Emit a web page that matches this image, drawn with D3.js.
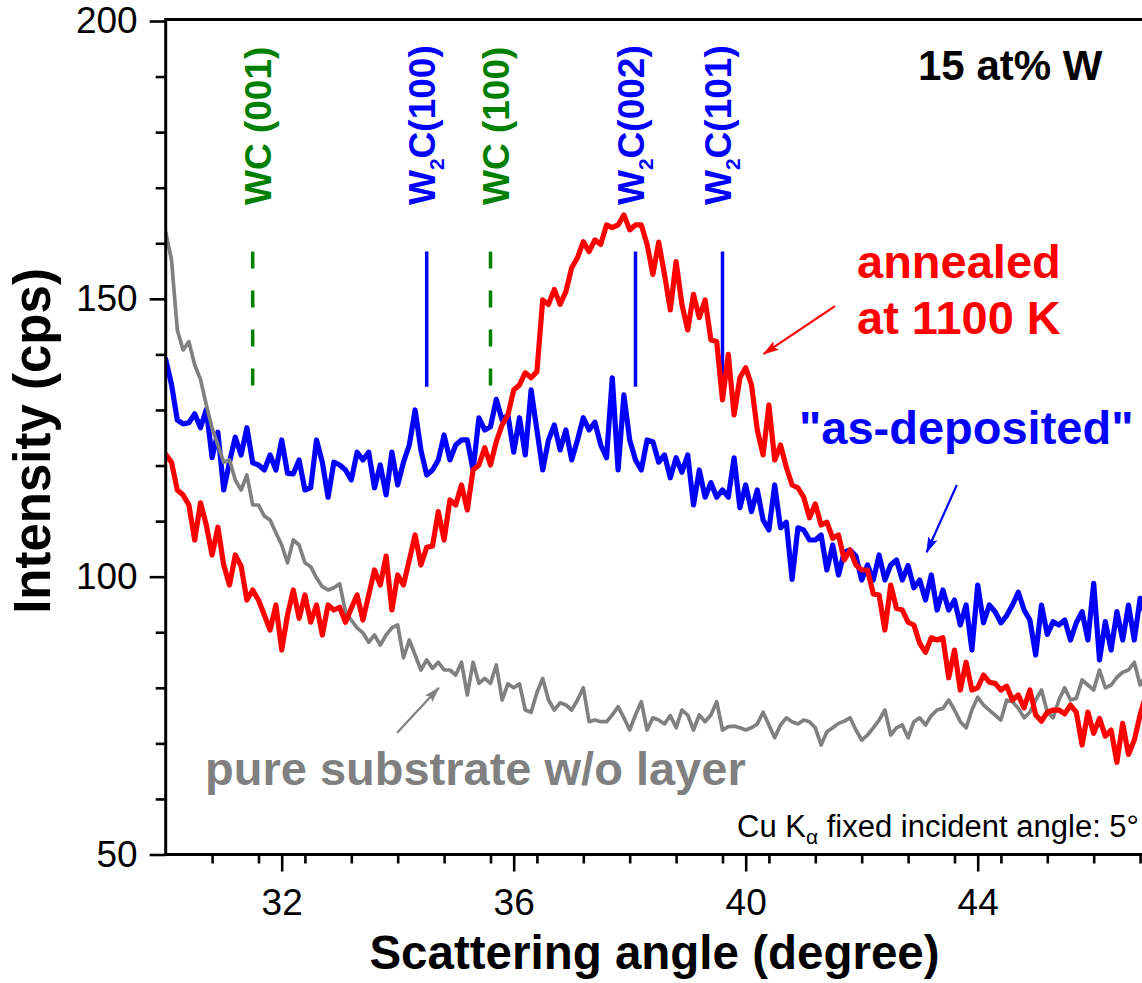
<!DOCTYPE html>
<html>
<head>
<meta charset="utf-8">
<script src="https://cdn.jsdelivr.net/npm/d3@7"></script>
<style>
  html, body { margin: 0; padding: 0; background: #fff; }
  svg { display: block; font-family: "Liberation Sans", Arial, Helvetica, sans-serif; }
</style>
</head>
<body>
<svg id="chart" width="1142" height="983"></svg>
<script>
// XRD scans, 15 at% W films: intensity (cps) sampled every 0.1 degree from 30.0 to 47.0
const angleStart = 30.0;
const angleStep = 0.1;

// pure substrate without layer
const substrate = [
  162, 157, 144.4, 140.8, 142.3, 138.1, 135.5, 130.9, 126.8, 123.7,
  120.6, 121.0, 117.4, 115.6, 118.3, 112.9, 112.9, 110.9, 110.2, 107.9,
  105.7, 102.5, 106.6, 105.7, 102.5, 101.8, 99.8, 98.2, 97.6, 98.0,
  98.7, 93.7, 92.2, 90.8, 89.9, 88.2, 89.5, 87.7, 89.5, 90.8,
  91.3, 85.4, 88.6, 85.9, 83.2, 85.0, 83.5, 84.6, 83.2, 83.2,
  82.3, 84.6, 78.7, 84.6, 80.8, 81.7, 80.8, 84.1, 77.8, 80.7,
  80.0, 80.7, 76.0, 75.6, 79.1, 81.7, 77.8, 76.0, 77.3, 76.9,
  76.0, 77.8, 80.0, 73.9, 74.2, 73.9, 73.9, 75.1, 76.6, 74.6,
  72.4, 75.1, 77.5, 72.4, 74.6, 74.2, 73.5, 75.0, 72.8, 76.0,
  75.1, 72.4, 75.1, 73.9, 75.1, 77.5, 72.4, 73.0, 73.1, 72.8,
  72.4, 72.8, 73.5, 75.6, 73.3, 71.0, 73.3, 74.6, 73.9, 73.5,
  74.2, 73.9, 72.8, 69.7, 72.1, 72.8, 73.6, 74.0, 74.6, 72.4,
  70.6, 71.5, 72.8, 74.2, 76.0, 71.5, 72.8, 73.3, 71.0, 73.9,
  74.6, 73.3, 75.0, 76.0, 76.3, 77.8, 76.0, 73.9, 72.8, 76.0,
  78.3, 76.9, 76.0, 75.1, 74.2, 77.8, 77.5, 76.3, 74.6, 75.6,
  77.8, 79.6, 75.6, 74.6, 77.8, 80.0, 77.8, 78.1, 81.4, 80.5,
  79.6, 83.2, 80.0, 80.5, 81.9, 82.8, 83.2, 84.6, 80.5, 82.3,
  83.2
];

// "as-deposited" film
const asDeposited = [
  139.1, 134.6, 128.2, 127.5, 127.7, 129.3, 126.8, 130.1, 121.4, 126.0,
  115.6, 120.6, 125.1, 121.9, 126.8, 120.5, 120.1, 119.2, 121.9, 119.2,
  124.6, 118.6, 118.5, 121.0, 115.6, 116.0, 124.6, 120.6, 114.3, 120.6,
  120.1, 119.2, 117.4, 122.4, 121.0, 122.4, 116.0, 120.1, 114.7, 122.4,
  116.5, 120.6, 123.7, 130.0, 122.8, 118.3, 119.2, 121.0, 125.5, 121.0,
  123.7, 124.6, 124.6, 119.2, 128.6, 126.4, 127.0, 131.9, 128.2, 129.1,
  122.4, 128.6, 121.9, 133.6, 126.4, 119.2, 124.6, 127.3, 122.8, 126.4,
  121.0, 124.6, 128.6, 126.4, 127.8, 123.7, 121.4, 135.8, 119.2, 132.7,
  124.6, 121.0, 119.2, 124.6, 124.3, 120.6, 121.9, 117.8, 121.4, 118.8,
  121.9, 112.9, 119.2, 114.3, 116.9, 114.3, 115.6, 114.3, 121.4, 112.4,
  116.5, 111.7, 115.6, 110.2, 108.4, 116.5, 108.8, 109.8, 99.5, 108.8,
  108.4, 106.6, 106.6, 107.5, 101.2, 105.7, 100.3, 104.4, 104.8, 103.7,
  99.4, 102.1, 99.4, 103.9, 99.4, 102.1, 103.0, 99.4, 102.0, 98.0,
  99.4, 95.8, 100.3, 94.0, 97.6, 94.0, 95.8, 91.3, 94.9, 86.8,
  98.5, 91.7, 94.9, 93.7, 91.7, 93.0, 94.9, 97.2, 94.0, 92.2,
  85.9, 94.9, 89.6, 91.9, 91.3, 92.2, 88.6, 91.7, 93.7, 88.6,
  98.8, 85.0, 91.9, 86.8, 93.7, 88.6, 94.9, 88.6, 96.1, 93.0,
  94.9
];

// annealed at 1100 K
const annealed = [
  122.0, 120.6, 115.6, 114.7, 112.9, 106.6, 113.3, 109.3, 103.9, 108.9,
  102.1, 98.5, 103.9, 101.9, 95.8, 97.6, 95.8, 93.1, 90.4, 94.9,
  86.8, 93.1, 97.6, 92.5, 96.7, 91.8, 94.9, 89.5, 94.9, 94.0,
  94.5, 91.8, 94.3, 96.7, 92.2, 96.7, 101.2, 98.5, 103.7, 94.0,
  100.3, 98.5, 103.0, 107.5, 102.1, 105.3, 105.5, 111.7, 106.6, 113.8,
  112.9, 116.5, 112.0, 119.2, 120.1, 123.2, 120.1, 124.3, 127.3, 129.1,
  133.6, 134.5, 136.7, 135.8, 136.9, 149.8, 149.0, 151.7, 149.0, 151.3,
  155.6, 157.4, 160.3, 158.5, 160.6, 159.8, 163.3, 162.8, 163.3, 165.1,
  162.4, 163.3, 163.3, 159.8, 154.4, 160.2, 154.4, 148.0, 156.7, 149.0,
  144.4, 150.8, 146.6, 149.8, 142.6, 142.3, 131.8, 140.0, 129.1, 135.8,
  137.6, 134.5, 126.4, 121.9, 130.9, 121.0, 123.7, 119.7, 116.5, 116.0,
  114.3, 110.6, 113.1, 109.3, 109.8, 106.9, 107.5, 103.0, 104.8, 102.1,
  101.2, 101.2, 96.9, 96.7, 90.4, 98.5, 94.3, 94.0, 91.8, 91.3,
  88.0, 86.4, 89.0, 88.6, 89.0, 81.8, 86.8, 79.6, 84.6, 79.6,
  80.0, 82.3, 81.0, 80.8, 79.6, 80.3, 77.8, 78.7, 76.4, 79.6,
  75.1, 74.0, 75.6, 76.0, 76.0, 75.3, 76.9, 75.6, 69.7, 75.6,
  71.8, 74.5, 71.3, 72.4, 66.6, 73.6, 68.0, 70.6, 75.1, 78.7,
  79.6
];

// reference reflections
const peakLabels = ["WC (001)", "W_2C(100)", "WC (100)", "W_2C(002)", "W_2C(101)"];
const peakPhases = ["WC", "W2C", "WC", "W2C", "W2C"];
const peakAngles = [31.5, 34.5, 35.6, 38.1, 39.6];
const peakMarkerRange = [134.2, 158.5];

// axes
const xDomain = [30, 47];
const yDomain = [50, 200];
const xMajorTicks = [32, 36, 40, 44];
const yMajorTicks = [50, 100, 150, 200];
const xTitle = "Scattering angle (degree)";
const yTitle = "Intensity (cps)";

const RED = "#ff0000", BLUE = "#0000ff", GREY = "#808080", GREEN = "#008000";

const svg = d3.select("#chart");
const x = d3.scaleLinear().domain(xDomain).range([165.7, 1151.7]);
const y = d3.scaleLinear().domain(yDomain).range([854.5, 21]);

const angles = substrate.map((_, i) => +(angleStart + i * angleStep).toFixed(2));
const toPoints = arr => arr.map((v, i) => [angles[i], v]);

// clip to plot area
svg.append("defs").append("clipPath").attr("id", "plotClip")
  .append("rect")
  .attr("x", x(xDomain[0])).attr("y", y(yDomain[1]) - 2)
  .attr("width", x(xDomain[1]) - x(xDomain[0]))
  .attr("height", y(yDomain[0]) - y(yDomain[1]) + 2);

// arrow heads
const defs = svg.select("defs");
[["arrRed", RED], ["arrBlue", BLUE], ["arrGrey", GREY]].forEach(([id, c]) => {
  defs.append("marker").attr("id", id)
    .attr("viewBox", "0 0 16 10").attr("refX", 15).attr("refY", 5)
    .attr("markerUnits", "userSpaceOnUse")
    .attr("markerWidth", 16).attr("markerHeight", 10)
    .attr("orient", "auto")
    .append("path").attr("d", "M0,0 L16,5 L0,10 L3,5 Z").attr("fill", c);
});

// reference reflection markers and labels
const peaks = svg.append("g");
peakAngles.forEach((a, i) => {
  const isWC = peakPhases[i] === "WC";
  const col = isWC ? GREEN : BLUE;
  peaks.append("line")
    .attr("x1", x(a)).attr("x2", x(a))
    .attr("y1", y(peakMarkerRange[1])).attr("y2", y(peakMarkerRange[0]))
    .attr("stroke", col).attr("stroke-width", 3.5)
    .attr("stroke-dasharray", isWC ? "17,22" : null);
  const off = isWC ? 18 : 8;
  const t = peaks.append("text")
    .attr("transform", `translate(${x(a) + off},205) rotate(-90)`)
    .attr("fill", col).attr("font-weight", "bold").attr("font-size", 37);
  const parts = peakLabels[i].split("_");
  if (parts.length === 1) {
    t.text(parts[0]);
  } else {
    t.append("tspan").text(parts[0]);
    t.append("tspan").attr("font-size", 21).attr("dy", 9).text(parts[1].charAt(0));
    t.append("tspan").attr("dy", -9).text(parts[1].slice(1));
  }
});

// data curves
const line = d3.line().x(d => x(d[0])).y(d => y(d[1]));
const curves = svg.append("g").attr("clip-path", "url(#plotClip)");
[[asDeposited, BLUE, 5.2], [substrate, GREY, 3.7], [annealed, RED, 5.2]].forEach(([arr, c, w]) => {
  curves.append("path").datum(toPoints(arr))
    .attr("d", line).attr("fill", "none")
    .attr("stroke", c).attr("stroke-width", w)
    .attr("stroke-linejoin", "round").attr("stroke-linecap", "round");
});

// frame
svg.append("rect")
  .attr("x", x(xDomain[0])).attr("y", y(yDomain[1]) - 1.5)
  .attr("width", x(xDomain[1]) - x(xDomain[0]))
  .attr("height", y(yDomain[0]) - y(yDomain[1]) + 1.5)
  .attr("fill", "none").attr("stroke", "#000").attr("stroke-width", 3);

// x axis
const xMinor = d3.range(0, 22).map(k => +(30 + 0.8 * k).toFixed(1))
  .filter(v => v > 30 && v <= 47 && !xMajorTicks.includes(v));
const gx = svg.append("g").attr("transform", `translate(0,${y(yDomain[0])})`);
gx.append("g").call(d3.axisBottom(x).tickValues(xMinor).tickSize(9).tickFormat(""));
gx.append("g").call(d3.axisBottom(x).tickValues(xMajorTicks).tickSize(17).tickPadding(17).tickFormat(d3.format("d")));
gx.selectAll(".domain").remove();
gx.selectAll(".tick line").attr("stroke", "#000").attr("stroke-width", 2.6);
gx.selectAll(".tick text").attr("font-size", 37).attr("fill", "#000")
  .attr("font-family", "'Liberation Sans', Arial, sans-serif");

// y axis
const yMinor = d3.range(60, 200, 10).filter(v => !yMajorTicks.includes(v));
const gy = svg.append("g").attr("transform", `translate(${x(xDomain[0])},0)`);
gy.append("g").call(d3.axisLeft(y).tickValues(yMinor).tickSize(10).tickFormat(""));
gy.append("g").call(d3.axisLeft(y).tickValues(yMajorTicks).tickSize(16).tickPadding(12).tickFormat(d3.format("d")));
gy.selectAll(".domain").remove();
gy.selectAll(".tick line").attr("stroke", "#000").attr("stroke-width", 2.6);
gy.selectAll(".tick text").attr("font-size", 37).attr("fill", "#000")
  .attr("font-family", "'Liberation Sans', Arial, sans-serif");

// axis titles
svg.append("text").attr("x", 654.5).attr("y", 969)
  .attr("text-anchor", "middle").attr("font-weight", "bold").attr("font-size", 47.5)
  .text(xTitle);
svg.append("text").attr("transform", "translate(50,441) rotate(-90)")
  .attr("text-anchor", "middle").attr("font-weight", "bold").attr("font-size", 51)
  .text(yTitle);

// annotations
const ann = svg.append("g").attr("font-weight", "bold");
ann.append("text").attr("x", 918).attr("y", 79.5).attr("font-size", 42).attr("fill", "#000").text("15 at% W");
ann.append("text").attr("x", 857).attr("y", 278).attr("font-size", 47).attr("fill", RED).text("annealed");
ann.append("text").attr("x", 857).attr("y", 334).attr("font-size", 47).attr("fill", RED).text("at 1100 K");
ann.append("text").attr("x", 799).attr("y", 444).attr("font-size", 47).attr("fill", BLUE).text("\"as-deposited\"");
ann.append("text").attr("x", 205).attr("y", 785).attr("font-size", 47).attr("fill", GREY).text("pure substrate w/o layer");

const note = svg.append("text").attr("x", 1139).attr("y", 837)
  .attr("text-anchor", "end").attr("font-size", 31).attr("fill", "#000");
note.append("tspan").text("Cu K");
note.append("tspan").attr("font-size", 21).attr("dy", 7).text("\u03b1");
note.append("tspan").attr("dy", -7).text(" fixed incident angle: 5\u00b0");

// pointer arrows (data coordinates)
const arrows = [
  [[41.54, 148.7], [40.31, 140.1], RED, "arrRed"],
  [[43.64, 116.5], [43.12, 104.4], BLUE, "arrBlue"],
  [[33.99, 71.9], [34.71, 80.0], GREY, "arrGrey"]
];
arrows.forEach(([p0, p1, c, m]) => {
  svg.append("line")
    .attr("x1", x(p0[0])).attr("y1", y(p0[1]))
    .attr("x2", x(p1[0])).attr("y2", y(p1[1]))
    .attr("stroke", c).attr("stroke-width", 2.2)
    .attr("marker-end", `url(#${m})`);
});
</script>
</body>
</html>
